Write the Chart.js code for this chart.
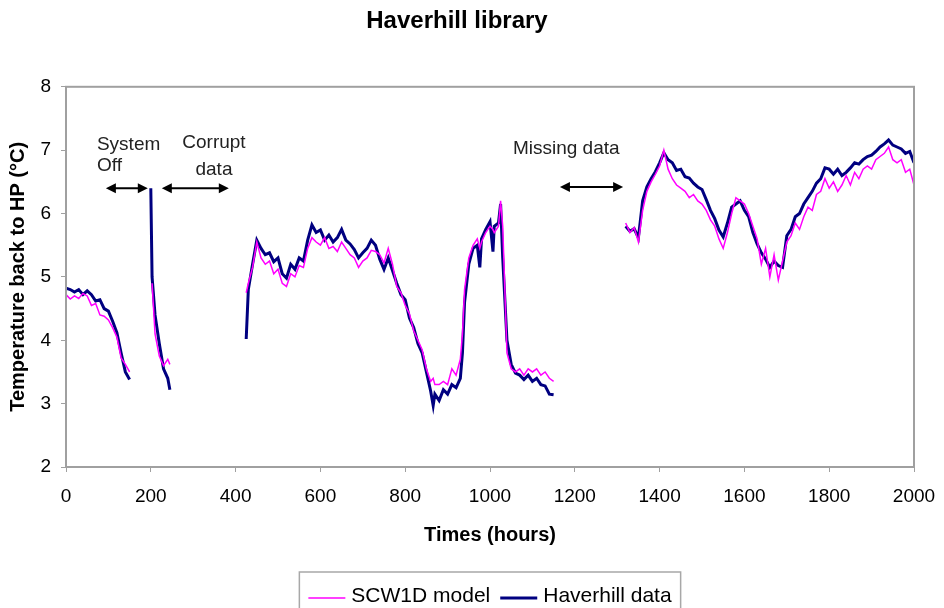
<!DOCTYPE html>
<html>
<head>
<meta charset="utf-8">
<script src="https://cdn.jsdelivr.net/npm/chart.js@4/dist/chart.umd.min.js"></script>
<style>
  html, body { margin: 0; padding: 0; background: #fff; }
  #wrap { width: 944px; height: 608px; }
</style>
</head>
<body>
<div id="wrap"><canvas id="chart"></canvas></div>
<script>
// hours, null entries mark the gaps in the record
let hours = [
  0, 10, 20, 30, 40, 50, 60, 70, 80, 90, 100, 110, 120, 130, 140, 150,
  175,
  200, 203, 210, 220, 230, 240, 245,
  330,
  425, 430, 440, 450, 460, 470, 480, 490, 500, 510, 520, 530, 540, 550, 560, 570, 580, 590,
  600, 610, 620, 630, 640, 650, 660, 670, 680, 690, 700, 710, 720, 730, 740, 750, 760, 770,
  780, 790, 800, 810, 820, 830, 840, 850, 860, 866, 870, 880, 890, 900, 910, 920, 930, 935,
  940, 950, 960, 970, 976, 980, 990, 1000, 1007, 1010, 1020, 1025, 1030, 1040, 1050, 1060,
  1070, 1080, 1090, 1100, 1110, 1120, 1130, 1140, 1150,
  1240,
  1320, 1330, 1340, 1350, 1360, 1370, 1380, 1390, 1400, 1410, 1420, 1430, 1440, 1450, 1460,
  1470, 1480, 1490, 1500, 1510, 1520, 1530, 1540, 1550, 1560, 1570, 1580, 1590, 1600, 1610,
  1620, 1630, 1640, 1650, 1660, 1670, 1680, 1690, 1700, 1710, 1720, 1730, 1740, 1750, 1760,
  1770, 1780, 1790, 1800, 1810, 1820, 1830, 1840, 1850, 1860, 1870, 1880, 1890, 1900, 1910,
  1920, 1930, 1940, 1950, 1960, 1970, 1980, 1990, 2000
];

let modelTemp = [
  4.72, 4.65, 4.70, 4.66, 4.74, 4.70, 4.55, 4.58, 4.40, 4.38, 4.32, 4.20, 4.05, 3.72, 3.62, 3.50,
  null,
  null, 4.90, 4.10, 3.75, 3.60, 3.70, 3.62,
  null,
  4.75, 4.90, 5.15, 5.55, 5.30, 5.20, 5.25, 5.05, 5.12, 4.90, 4.85, 5.05, 5.00, 5.18, 5.15, 5.45, 5.62, 5.55,
  5.50, 5.62, 5.45, 5.48, 5.40, 5.55, 5.45, 5.35, 5.30, 5.15, 5.25, 5.30, 5.42, 5.40, 5.35, 5.22, 5.45, 5.20,
  4.85, 4.75, 4.55, 4.42, 4.15, 4.00, 3.85, 3.55, 3.35, 3.40, 3.30, 3.30, 3.35, 3.30, 3.55, 3.45, 3.70, 4.10,
  4.80, 5.30, 5.50, 5.60, 5.45, 5.55, 5.70, 5.80, 5.75, 5.70, 5.80, 6.20, 5.80, 3.80, 3.55, 3.50,
  3.55, 3.45, 3.55, 3.50, 3.55, 3.45, 3.50, 3.40, 3.35,
  null,
  5.85, 5.70, 5.78, 5.55, 6.05, 6.35, 6.50, 6.62, 6.75, 7.00, 6.70, 6.55, 6.45, 6.40, 6.35,
  6.25, 6.30, 6.20, 6.15, 6.05, 5.90, 5.80, 5.60, 5.45, 5.70, 6.00, 6.25, 6.20, 6.15, 6.00,
  5.80, 5.60, 5.20, 5.45, 5.00, 5.35, 4.95, 5.25, 5.55, 5.65, 5.85, 5.75, 5.95, 6.10, 6.05,
  6.30, 6.35, 6.55, 6.40, 6.50, 6.35, 6.45, 6.60, 6.45, 6.65, 6.55, 6.70, 6.75, 6.70, 6.85,
  6.90, 6.95, 7.05, 6.85, 6.80, 6.85, 6.65, 6.70, 6.45
];

let measuredTemp = [
  4.82, 4.80, 4.76, 4.80, 4.72, 4.78, 4.72, 4.62, 4.64, 4.50, 4.46, 4.30, 4.12, 3.80, 3.50, 3.38,
  null,
  6.40, 5.00, 4.40, 3.95, 3.55, 3.40, 3.22,
  null,
  4.02, 4.80, 5.20, 5.58, 5.45, 5.35, 5.38, 5.24, 5.30, 5.05, 4.98, 5.20, 5.12, 5.30, 5.25, 5.58, 5.82, 5.70,
  5.74, 5.58, 5.66, 5.55, 5.62, 5.75, 5.58, 5.52, 5.43, 5.30, 5.38, 5.45, 5.58, 5.50, 5.28, 5.12, 5.30, 5.10,
  4.90, 4.72, 4.64, 4.35, 4.20, 3.95, 3.80, 3.50, 3.20, 2.97, 3.15, 3.05, 3.22, 3.15, 3.30, 3.25, 3.40, 3.80,
  4.60, 5.20, 5.45, 5.50, 5.15, 5.60, 5.75, 5.87, 5.40, 5.80, 5.85, 6.15, 5.30, 4.00, 3.62, 3.48,
  3.45, 3.38, 3.45, 3.35, 3.40, 3.30, 3.28, 3.15, 3.14,
  null,
  5.80, 5.72, 5.76, 5.62, 6.20, 6.42, 6.55, 6.66, 6.80, 6.96, 6.85, 6.80, 6.68, 6.70, 6.58,
  6.56, 6.48, 6.42, 6.38, 6.22, 6.05, 5.92, 5.74, 5.63, 5.85, 6.10, 6.15, 6.20, 6.05, 5.95,
  5.70, 5.52, 5.38, 5.28, 5.15, 5.25, 5.18, 5.15, 5.65, 5.75, 5.95, 6.00, 6.15, 6.25, 6.35,
  6.48, 6.55, 6.72, 6.70, 6.62, 6.70, 6.60, 6.65, 6.72, 6.80, 6.78, 6.85, 6.90, 6.92, 6.98,
  7.05, 7.10, 7.16, 7.08, 7.05, 7.02, 6.95, 6.98, 6.80
];

let seriesNames = ["SCW1D model", "Haverhill data"];
let seriesColors = ["#ff00ff", "#000080"];
let seriesWidths = [1.5, 3];

function toPoints(vals) {
  return hours.map((h, i) => ({ x: h, y: vals[i] }));
}

// notes drawn on the plot, in axis units
let notes = [
  { text: "System", x: 73, y: 7.09, align: "left" },
  { text: "Off", x: 73, y: 6.75, align: "left" },
  { text: "Corrupt", x: 349, y: 7.12, align: "center" },
  { text: "data", x: 349, y: 6.69, align: "center" },
  { text: "Missing data", x: 1054, y: 7.03, align: "left" }
];
let arrows = [
  { x1: 94, x2: 193, y: 6.40 },
  { x1: 226, x2: 384, y: 6.40 },
  { x1: 1165, x2: 1314, y: 6.42 }
];

const FONT = "'Liberation Sans', Arial, sans-serif";

const extras = {
  id: "extras",
  afterDraw(chart) {
    const ctx = chart.ctx;
    const a = chart.chartArea;
    const xs = chart.scales.x, ys = chart.scales.y;
    ctx.save();
    // plot frame
    ctx.strokeStyle = "#a0a0a0";
    ctx.lineWidth = 2;
    ctx.strokeRect(a.left, a.top, a.right - a.left, a.bottom - a.top);

    // notes
    ctx.fillStyle = "#222";
    ctx.font = "19px " + FONT;
    ctx.textBaseline = "middle";
    notes.forEach(n => {
      ctx.textAlign = n.align;
      ctx.fillText(n.text, xs.getPixelForValue(n.x), ys.getPixelForValue(n.y));
    });

    // double arrows
    ctx.strokeStyle = "#000";
    ctx.fillStyle = "#000";
    ctx.lineWidth = 2;
    arrows.forEach(ar => {
      const x1 = xs.getPixelForValue(ar.x1), x2 = xs.getPixelForValue(ar.x2);
      const y = ys.getPixelForValue(ar.y);
      ctx.beginPath();
      ctx.moveTo(x1 + 4, y);
      ctx.lineTo(x2 - 4, y);
      ctx.stroke();
      [[x1, 1], [x2, -1]].forEach(([px, d]) => {
        ctx.beginPath();
        ctx.moveTo(px, y);
        ctx.lineTo(px + d * 10, y - 5);
        ctx.lineTo(px + d * 10, y + 5);
        ctx.closePath();
        ctx.fill();
      });
    });

    // legend in a box below the axis title
    ctx.font = "21px " + FONT;
    ctx.textAlign = "left";
    const lineLen = 37, gapLine = 6, gapItem = 10, pad = 9;
    const widths = seriesNames.map(s => ctx.measureText(s).width);
    let total = pad * 2 + gapItem;
    widths.forEach(w => { total += lineLen + gapLine + w; });
    const bx = (a.left + a.right) / 2 - total / 2;
    const by = 572, cy = 596;
    ctx.strokeStyle = "#a8a8a8";
    ctx.lineWidth = 1.5;
    ctx.strokeRect(bx, by, total, 50);
    let x = bx + pad;
    seriesNames.forEach((s, i) => {
      ctx.strokeStyle = seriesColors[i];
      ctx.lineWidth = seriesWidths[i];
      ctx.beginPath();
      ctx.moveTo(x, cy + 2);
      ctx.lineTo(x + lineLen, cy + 2);
      ctx.stroke();
      x += lineLen + gapLine;
      ctx.fillStyle = "#000";
      ctx.fillText(s, x, cy);
      x += widths[i] + gapItem;
    });
    ctx.restore();
  }
};

new Chart(document.getElementById("chart"), {
  type: "line",
  data: {
    datasets: seriesNames.map((name, i) => ({
      label: name,
      data: toPoints(i === 0 ? modelTemp : measuredTemp),
      borderColor: seriesColors[i],
      backgroundColor: seriesColors[i],
      borderWidth: seriesWidths[i],
      pointRadius: 0,
      tension: 0,
      spanGaps: false
    }))
  },
  plugins: [extras],
  options: {
    responsive: true,
    maintainAspectRatio: false,
    animation: false,
    layout: { padding: { left: 0, right: 30, top: 0, bottom: 45 } },
    plugins: {
      title: {
        display: true,
        text: "Haverhill library",
        color: "#000",
        font: { family: FONT, size: 24, weight: "bold" },
        padding: { top: 7, bottom: 51 }
      },
      legend: { display: false },
      tooltip: { enabled: false }
    },
    scales: {
      x: {
        type: "linear",
        min: 0,
        max: 2000,
        afterFit(scale) {
          scale.height = 96;
          scale.paddingLeft = 0;
          scale.paddingRight = 0;
        },
        ticks: {
          stepSize: 200,
          color: "#000",
          padding: 13,
          maxRotation: 0,
          callback: v => String(v),
          font: { family: FONT, size: 19 }
        },
        grid: { drawOnChartArea: false, drawTicks: true, tickLength: 5, color: "#a0a0a0" },
        border: { display: true, color: "#a0a0a0", width: 2 },
        title: {
          display: true,
          text: "Times (hours)",
          color: "#000",
          font: { family: FONT, size: 20, weight: "bold" },
          padding: { top: 4, bottom: 16 }
        }
      },
      y: {
        min: 2,
        max: 8,
        afterFit(scale) { scale.width = 66; },
        ticks: {
          stepSize: 1,
          color: "#000",
          padding: 10,
          callback: v => String(v),
          font: { family: FONT, size: 19 }
        },
        grid: { drawOnChartArea: false, drawTicks: true, tickLength: 5, color: "#a0a0a0" },
        border: { display: true, color: "#a0a0a0", width: 2 },
        title: {
          display: true,
          text: "Temperature back to HP (\u00B0C)",
          color: "#000",
          font: { family: FONT, size: 20, weight: "bold" },
          padding: { top: 6, bottom: 0 }
        }
      }
    }
  }
});
</script>
</body>
</html>
